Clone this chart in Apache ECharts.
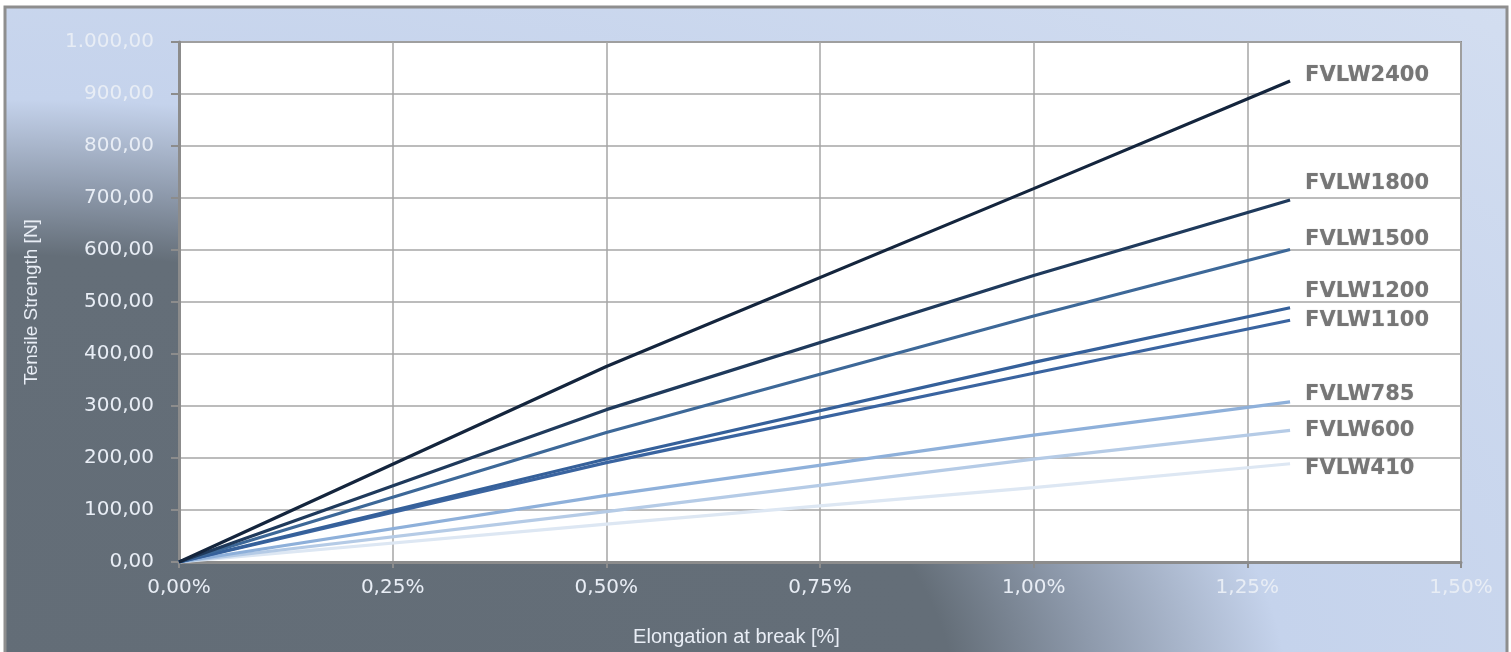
<!DOCTYPE html>
<html>
<head>
<meta charset="utf-8">
<script src="https://cdn.jsdelivr.net/npm/echarts@6/dist/echarts.min.js"></script>
<style>
html,body{margin:0;padding:0;background:#fff;}
#chart{width:1511px;height:652px;}
</style>
</head>
<body>
<div id="chart"></div>
<script>
// ---- data ----
const elongation = [0, 0.5, 1.0, 1.3];            // x values in %
const seriesNames = ['FVLW2400','FVLW1800','FVLW1500','FVLW1200','FVLW1100','FVLW785','FVLW600','FVLW410'];
const fvlw2400 = [0, 376, 718, 925];
const fvlw1800 = [0, 293, 551, 696];
const fvlw1500 = [0, 249, 473, 601];
const fvlw1200 = [0, 198, 384, 489];
const fvlw1100 = [0, 191, 363, 465];
const fvlw785  = [0, 128, 244, 308];
const fvlw600  = [0, 97, 198, 253];
const fvlw410  = [0, 73, 143, 189];
const xTicks = [0, 0.25, 0.5, 0.75, 1.0, 1.25, 1.5];
const yTicks = [0, 100, 200, 300, 400, 500, 600, 700, 800, 900, 1000];

// ---- styles ----
const lineColors = ['#14253d','#1f3a5c','#3d6898','#35609a','#3a64a0','#8eb0da','#b5cbe6','#dde7f3'];
const labelDy = [-5, -17, -10, -16, 0, -7, 0, 5];
const allValues = [fvlw2400, fvlw1800, fvlw1500, fvlw1200, fvlw1100, fvlw785, fvlw600, fvlw410];

function fmtY(v){
  const s = v.toFixed(2).split('.');
  const int = s[0].replace(/\B(?=(\d{3})+(?!\d))/g, '.');
  return int + ',' + s[1];
}
function fmtX(v){ return v.toFixed(2).replace('.', ',') + '%'; }

const series = seriesNames.map((name, i) => ({
  name: name,
  type: 'line',
  data: elongation.map((x, j) => [x, allValues[i][j]]),
  showSymbol: false,
  symbol: 'none',
  smooth: false,
  z: 10 - i,
  lineStyle: { color: lineColors[i], width: 3.2 },
  itemStyle: { color: lineColors[i] },
  endLabel: {
    show: true,
    formatter: '{a}',
    distance: 15,
    offset: [0, labelDy[i]],
    color: '#767676',
    fontFamily: 'DejaVu Sans',
    fontWeight: 'bold',
    fontSize: 21,
    textShadowColor: 'rgba(0,0,0,0.3)',
    textShadowBlur: 1
  },
  emphasis: { disabled: true },
  animation: false
}));

// elliptical background: radial gradient on a horizontally scaled rect
const SX = 2.135;
const bgW = 1502 / SX, bgH = 670;

const chart = echarts.init(document.getElementById('chart'), null, {renderer: 'canvas'});
chart.setOption({
  animation: false,
  backgroundColor: '#ffffff',
  graphic: [{
    type: 'rect',
    z: -10,
    silent: true,
    x: 5, y: 7,
    scaleX: SX,
    shape: { x: 0, y: 0, width: bgW, height: bgH },
    style: {
      fill: {
        type: 'radial',
        x: 0, y: 693 / bgH, r: 1335 / Math.min(bgW, bgH),
        colorStops: [
          { offset: 0, color: '#636d77' },
          { offset: 0.333, color: '#646e78' },
          { offset: 0.383, color: '#8e9aac' },
          { offset: 0.45, color: '#c5d3ec' },
          { offset: 1, color: '#dfe7f4' }
        ]
      }
    }
  }, {
    type: 'rect',
    z: -9,
    silent: true,
    shape: { x: 5, y: 7, width: 1502, height: 670 },
    style: { fill: null, stroke: '#8e8e8e', lineWidth: 3 }
  }],
  grid: {
    left: 179, right: 50, top: 42, bottom: 87,
    show: true, backgroundColor: '#ffffff',
    borderColor: '#8c8c8c', borderWidth: 2
  },
  xAxis: {
    type: 'value',
    min: xTicks[0], max: xTicks[xTicks.length - 1], interval: 0.25,
    name: 'Elongation at break [%]',
    nameLocation: 'middle',
    nameGap: 65,
    nameTextStyle: {
      color: '#e8edf5', fontFamily: 'Liberation Sans', fontSize: 20,
      padding: [0, 167, 0, 0]
    },
    axisLine: { show: true, lineStyle: { color: '#8c8c8c', width: 3 } },
    axisTick: { show: true, length: 6, lineStyle: { color: '#8c8c8c', width: 2 } },
    axisLabel: {
      formatter: fmtX, color: '#e8edf5', fontFamily: 'DejaVu Sans', fontSize: 20, margin: 16
    },
    splitLine: { show: true, lineStyle: { color: '#a6a6a6', width: 1.5 } }
  },
  yAxis: {
    type: 'value',
    min: yTicks[0], max: yTicks[yTicks.length - 1], interval: 100,
    name: 'Tensile Strength [N]',
    nameLocation: 'middle',
    nameGap: 138,
    nameRotate: 90,
    nameTextStyle: { color: '#e8edf5', fontFamily: 'Liberation Sans', fontSize: 19 },
    axisLine: { show: true, lineStyle: { color: '#8c8c8c', width: 3 } },
    axisTick: { show: true, length: 8, lineStyle: { color: '#8c8c8c', width: 2 } },
    axisLabel: {
      formatter: fmtY, color: '#e8edf5', fontFamily: 'DejaVu Sans', fontSize: 20, margin: 25
    },
    splitLine: { show: true, lineStyle: { color: '#a6a6a6', width: 1.5 } }
  },
  series: series
});
</script>
</body>
</html>
